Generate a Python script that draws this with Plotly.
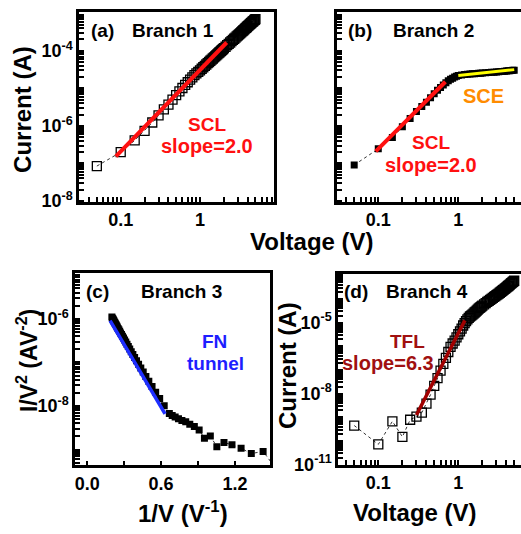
import plotly.graph_objects as go

# ---------------- data ----------------
# (a) Branch 1 : I-V, open squares
v_a = [0.05, 0.1, 0.15, 0.2, 0.25, 0.3, 0.35, 0.4, 0.45, 0.5, 0.55, 0.6, 0.65, 0.7, 0.75,
       0.8, 0.85, 0.9, 0.95, 1.0, 1.05, 1.1, 1.15, 1.2, 1.25, 1.3, 1.35, 1.4, 1.45, 1.5,
       1.55, 1.6, 1.65, 1.7, 1.75, 1.8, 1.85, 1.9, 1.95, 2.0, 2.1, 2.2, 2.3, 2.4, 2.5,
       2.6, 2.7, 2.8, 2.9, 3.0, 3.1, 3.2, 3.3, 3.4, 3.5, 3.6, 3.7, 3.8, 3.9, 4.0,
       4.1, 4.2, 4.3, 4.4, 4.5, 4.6, 4.7, 4.8, 4.9, 5.0]
i_a = [8.5e-8, 2.0e-7, 4.1e-7, 7.4e-7, 1.23e-6, 1.9e-6, 2.75e-6, 3.7e-6, 5.0e-6, 6.6e-6,
       8.3e-6, 1.02e-5, 1.23e-5, 1.45e-5, 1.7e-5, 1.95e-5, 2.24e-5, 2.5e-5, 2.75e-5, 3.0e-5,
       3.32e-5, 3.64e-5, 3.97e-5, 4.31e-5, 4.67e-5, 5.03e-5, 5.42e-5, 5.82e-5, 6.23e-5, 6.65e-5,
       7.10e-5, 7.55e-5, 8.02e-5, 8.49e-5, 8.99e-5, 9.5e-5, 1.00e-4, 1.06e-4, 1.11e-4, 1.17e-4,
       1.28e-4, 1.41e-4, 1.53e-4, 1.66e-4, 1.80e-4, 1.95e-4, 2.09e-4, 2.25e-4, 2.41e-4, 2.57e-4,
       2.74e-4, 2.92e-4, 3.10e-4, 3.28e-4, 3.47e-4, 3.67e-4, 3.87e-4, 4.08e-4, 4.29e-4, 4.51e-4,
       4.73e-4, 4.96e-4, 5.19e-4, 5.43e-4, 5.67e-4, 5.92e-4, 6.17e-4, 6.43e-4, 6.70e-4, 6.97e-4]
fit_a_v = [0.087, 2.17]
fit_a_i = [1.55e-7, 1.66e-4]

# (b) Branch 2 : I-V, filled squares
v_b = [0.05, 0.1, 0.15, 0.2, 0.25, 0.3, 0.35, 0.4, 0.45, 0.5, 0.55, 0.6, 0.65, 0.7, 0.75,
       0.8, 0.85, 0.9, 0.95, 1.0, 1.1, 1.2, 1.3, 1.4, 1.5, 1.6, 1.7, 1.8, 1.9, 2.0,
       2.2, 2.4, 2.6, 2.8, 3.0, 3.2, 3.4, 3.6, 3.8, 4.0, 4.2, 4.4, 4.6, 4.8, 5.0]
i_b = [9.1e-8, 2.45e-7, 4.9e-7, 9.5e-7, 1.58e-6, 2.4e-6, 3.3e-6, 4.27e-6, 5.6e-6, 7.2e-6,
       8.9e-6, 1.05e-5, 1.23e-5, 1.41e-5, 1.58e-5, 1.74e-5, 1.86e-5, 2.0e-5, 2.09e-5, 2.19e-5,
       2.26e-5, 2.32e-5, 2.37e-5, 2.40e-5, 2.43e-5, 2.45e-5, 2.48e-5, 2.51e-5, 2.54e-5, 2.57e-5,
       2.60e-5, 2.63e-5, 2.66e-5, 2.69e-5, 2.72e-5, 2.75e-5, 2.79e-5, 2.82e-5, 2.85e-5, 2.88e-5,
       2.92e-5, 2.95e-5, 2.99e-5, 3.02e-5, 3.05e-5]
fit_b_scl_v = [0.093, 0.69]
fit_b_scl_i = [2.1e-7, 1.5e-5]
fit_b_sce_v = [1.0, 5.0]
fit_b_sce_i = [2.2e-5, 3.15e-5]

# (c) Branch 3 : FN plot, filled squares
x_c = [0.2000, 0.2041, 0.2083, 0.2128, 0.2174, 0.2222, 0.2273, 0.2326, 0.2381, 0.2439,
       0.2500, 0.2564, 0.2632, 0.2703, 0.2778, 0.2857, 0.2941, 0.3030, 0.3125, 0.3226,
       0.3333, 0.3448, 0.3571, 0.3704, 0.3846, 0.4000, 0.4167, 0.4348, 0.4545, 0.4762,
       0.5000, 0.5263, 0.5556, 0.5882, 0.6250, 0.6667, 0.690, 0.714, 0.741, 0.769,
       0.800, 0.833, 0.870, 0.909, 0.952, 1.000, 1.053, 1.111, 1.176, 1.250,
       1.333, 1.429, 1.538]
y_c = [1.10e-6, 1.04e-6, 9.93e-7, 9.42e-7, 8.91e-7, 8.41e-7, 7.93e-7, 7.45e-7, 6.97e-7, 6.50e-7,
       6.05e-7, 5.62e-7, 5.19e-7, 4.78e-7, 4.38e-7, 4.00e-7, 3.63e-7, 3.27e-7, 2.94e-7, 2.62e-7,
       2.32e-7, 2.03e-7, 1.77e-7, 1.52e-7, 1.30e-7, 1.10e-7, 9.12e-8, 7.48e-8, 6.04e-8, 4.79e-8,
       3.72e-8, 2.82e-8, 2.07e-8, 1.49e-8, 1.02e-8, 6.78e-9, 6.03e-9, 5.62e-9, 5.13e-9, 4.68e-9,
       4.37e-9, 3.80e-9, 3.39e-9, 2.82e-9, 1.82e-9, 2.04e-9, 1.17e-9, 1.45e-9, 1.29e-9, 1.07e-9,
       8.1e-10, 9.1e-10, 3.5e-10]
fit_c_x = [0.185, 0.632]
fit_c_y = [9.1e-7, 6.6e-9]

# (d) Branch 4 : I-V, open squares
v_d = [0.05, 0.1, 0.15, 0.2, 0.25, 0.3, 0.35, 0.4, 0.45, 0.5, 0.55, 0.6, 0.65, 0.7, 0.75,
       0.8, 0.85, 0.9, 0.95, 1.0, 1.05, 1.1, 1.15, 1.2, 1.25, 1.3, 1.35, 1.4, 1.45, 1.5,
       1.55, 1.6, 1.65, 1.7, 1.75, 1.8, 1.85, 1.9, 1.95, 2.0, 2.1, 2.2, 2.3, 2.4, 2.5,
       2.6, 2.7, 2.8, 2.9, 3.0, 3.1, 3.2, 3.3, 3.4, 3.5, 3.6, 3.7, 3.8, 3.9, 4.0,
       4.1, 4.2, 4.3, 4.4, 4.5, 4.6, 4.7, 4.8, 4.9, 5.0]
i_d = [4.5e-10, 7.2e-11, 6.8e-10, 1.5e-10, 7.9e-10, 1.07e-9, 1.58e-9, 3.8e-9, 9.1e-9, 2.14e-8,
       4.57e-8, 9.5e-8, 1.82e-7, 3.24e-7, 5.75e-7, 9.5e-7, 1.32e-6, 1.74e-6, 2.4e-6, 3.24e-6,
       4.27e-6, 5.6e-6, 7.6e-6, 9.5e-6, 1.17e-5, 1.38e-5, 1.58e-5, 1.82e-5, 2.0e-5, 2.19e-5,
       2.43e-5, 2.69e-5, 2.95e-5, 3.24e-5, 3.55e-5, 3.89e-5, 4.22e-5, 4.57e-5, 4.9e-5, 5.25e-5,
       5.96e-5, 6.76e-5, 7.5e-5, 8.3e-5, 9.23e-5, 1.02e-4, 1.12e-4, 1.23e-4, 1.33e-4, 1.45e-4,
       1.57e-4, 1.70e-4, 1.84e-4, 2.0e-4, 2.16e-4, 2.34e-4, 2.51e-4, 2.69e-4, 2.88e-4, 3.09e-4,
       3.31e-4, 3.55e-4, 3.80e-4, 4.07e-4, 4.37e-4, 4.68e-4, 4.95e-4, 5.25e-4, 5.56e-4, 5.9e-4]
fit_d_v = [0.30, 1.21]
fit_d_i = [1.26e-9, 1.25e-5]

# tick labels (exponent -> label) for each log axis
ylab_a = {-8: "10<sup>-8</sup>", -6: "10<sup>-6</sup>", -4: "10<sup>-4</sup>"}
ylab_c = {-8: "10<sup>-8</sup>", -6: "10<sup>-6</sup>"}
ylab_d = {-11: "10<sup>-11</sup>", -8: "10<sup>-8</sup>", -5: "10<sup>-5</sup>"}
xlab_log = {-1: "0.1", 0: "1"}
xtick_c_vals = [0.0, 0.3, 0.6, 0.9, 1.2]
xtick_c_text = ["0.0", "", "0.6", "", "1.2"]


def log_ticks(e_lo, e_hi, labels):
    """tick positions at 1..9 x 10^e, labelled only at the given decades"""
    vals, text = [], []
    for e in range(e_lo, e_hi + 1):
        for m in range(1, 10):
            vals.append(m * 10.0 ** e)
            lab = labels.get(e, "") if m == 1 else ""
            text.append("<b>" + lab + "</b>" if lab else "")
    return vals, text


# ---------------- figure ----------------
W, H = 521, 534
FONT = "Liberation Sans, Arial, sans-serif"


def px(x):
    return x / W


def py(y):
    return 1 - y / H


fig = go.Figure()

dot_line = dict(color="#333333", width=1, dash="dot")
open_sq = dict(symbol="square-open", size=9, color="black", line=dict(width=1.3))
fill_sq = dict(symbol="square", size=7, color="black")

fig.add_trace(go.Scatter(x=v_a, y=i_a, mode="lines+markers", line=dot_line, marker=open_sq,
                         xaxis="x", yaxis="y", showlegend=False))
fig.add_trace(go.Scatter(x=fit_a_v, y=fit_a_i, mode="lines", line=dict(color="#FF1010", width=4),
                         xaxis="x", yaxis="y", showlegend=False))

fig.add_trace(go.Scatter(x=v_b, y=i_b, mode="lines+markers", line=dot_line, marker=fill_sq,
                         xaxis="x2", yaxis="y2", showlegend=False))
fig.add_trace(go.Scatter(x=fit_b_scl_v, y=fit_b_scl_i, mode="lines", line=dict(color="#FF1010", width=4),
                         xaxis="x2", yaxis="y2", showlegend=False))
fig.add_trace(go.Scatter(x=fit_b_sce_v, y=fit_b_sce_i, mode="lines", line=dict(color="#FFFF00", width=3),
                         xaxis="x2", yaxis="y2", showlegend=False))

fig.add_trace(go.Scatter(x=x_c, y=y_c, mode="lines+markers", line=dot_line, marker=fill_sq,
                         xaxis="x3", yaxis="y3", showlegend=False))
fig.add_trace(go.Scatter(x=fit_c_x, y=fit_c_y, mode="lines", line=dict(color="#1E2EFF", width=3.5),
                         xaxis="x3", yaxis="y3", showlegend=False))

fig.add_trace(go.Scatter(x=v_d, y=i_d, mode="lines+markers", line=dot_line, marker=open_sq,
                         xaxis="x4", yaxis="y4", showlegend=False))
fig.add_trace(go.Scatter(x=fit_d_v, y=fit_d_i, mode="lines", line=dict(color="#A00000", width=3.5),
                         xaxis="x4", yaxis="y4", showlegend=False))


def make_axis(kind, domain, rng, vals, text, anchor, mirror=True):
    return dict(type=kind, domain=domain, range=rng, anchor=anchor,
                showline=True, linecolor="black", linewidth=2.5, mirror=mirror,
                ticks="inside", ticklen=5, tickwidth=2, tickcolor="black",
                tickmode="array", tickvals=vals, ticktext=text,
                showgrid=False, zeroline=False)


xlog_vals, xlog_text = log_ticks(-2, 1, xlab_log)
ya_vals, ya_text = log_ticks(-9, -3, ylab_a)
yb_vals, _ = log_ticks(-9, -3, {})
yc_vals, yc_text = log_ticks(-10, -5, ylab_c)
yd_vals, yd_text = log_ticks(-12, -3, ylab_d)
xc_text = ["<b>" + t + "</b>" if t else "" for t in xtick_c_text]

xa = make_axis("log", [px(79), px(274)], [-1.526, 0.933], xlog_vals, xlog_text, "y")
ya = make_axis("log", [py(206), py(12.7)], [-8.03, -2.98], ya_vals, ya_text, "x")
xb = make_axis("log", [px(337), 1.0], [-1.516, 0.784], xlog_vals, xlog_text, "y2")
yb = make_axis("log", [py(206), py(12.7)], [-8.03, -2.98], yb_vals, [""] * len(yb_vals), "x2", mirror=False)
xc = make_axis("linear", [px(75), px(270)], [-0.1, 1.485], xtick_c_vals, xc_text, "y3")
yc = make_axis("log", [py(474.3), py(278.3)], [-9.363, -4.948], yc_vals, yc_text, "x3")
xd = make_axis("log", [px(338), 1.0], [-1.504, 0.784], xlog_vals, xlog_text, "y4")
yd = make_axis("log", [py(474), py(279)], [-11.02, -2.934], yd_vals, yd_text, "x4", mirror=False)

fig.update_layout(
    width=W, height=H, margin=dict(l=0, r=0, t=0, b=0),
    paper_bgcolor="white", plot_bgcolor="white",
    font=dict(family=FONT, size=18, color="black"),
    xaxis=xa, yaxis=ya, xaxis2=xb, yaxis2=yb,
    xaxis3=xc, yaxis3=yc, xaxis4=xd, yaxis4=yd,
)


def ann(text, x, y, size, color="black", xanchor="center", angle=0):
    fig.add_annotation(text="<b>" + text + "</b>", x=px(x), y=py(y), xref="paper", yref="paper",
                       xanchor=xanchor, yanchor="middle", showarrow=False, textangle=angle,
                       font=dict(family=FONT, size=size, color=color))


# panel labels
ann("(a)", 89, 31, 19, xanchor="left")
ann("Branch 1", 130, 31, 19, xanchor="left")
ann("(b)", 346, 31, 19, xanchor="left")
ann("Branch 2", 391, 31, 19, xanchor="left")
ann("(c)", 84, 297, 19, xanchor="left")
ann("Branch 3", 139, 297, 19, xanchor="left")
ann("(d)", 342, 297, 19, xanchor="left")
ann("Branch 4", 384, 297, 19, xanchor="left")

# colored notes
ann("SCL", 207, 127, 19, "#FF1010")
ann("slope=2.0", 207, 149, 20, "#FF1010")
ann("SCE", 483, 98, 20, "#FF8C00")
ann("SCL", 431, 145, 19, "#FF1010")
ann("slope=2.0", 431, 168, 20, "#FF1010")
ann("FN", 214, 348, 19, "#1E1EFF")
ann("tunnel", 215, 370, 19, "#1E1EFF")
ann("TFL", 407, 348, 19, "#A01010")
ann("slope=6.3", 388, 370, 20, "#A01010")

# axis titles
ann("Current (A)", 23, 112, 24, angle=-90)
ann("Voltage (V)", 312, 246, 24)
ann("I/V<sup>2</sup> (AV<sup>-2</sup>)", 27, 368, 23, angle=-90)
ann("1/V (V<sup>-1</sup>)", 183, 522, 24)
ann("Current (A)", 287, 373, 24, angle=-90)
ann("Voltage (V)", 415, 522, 24)

fig.write_html("out.html")
